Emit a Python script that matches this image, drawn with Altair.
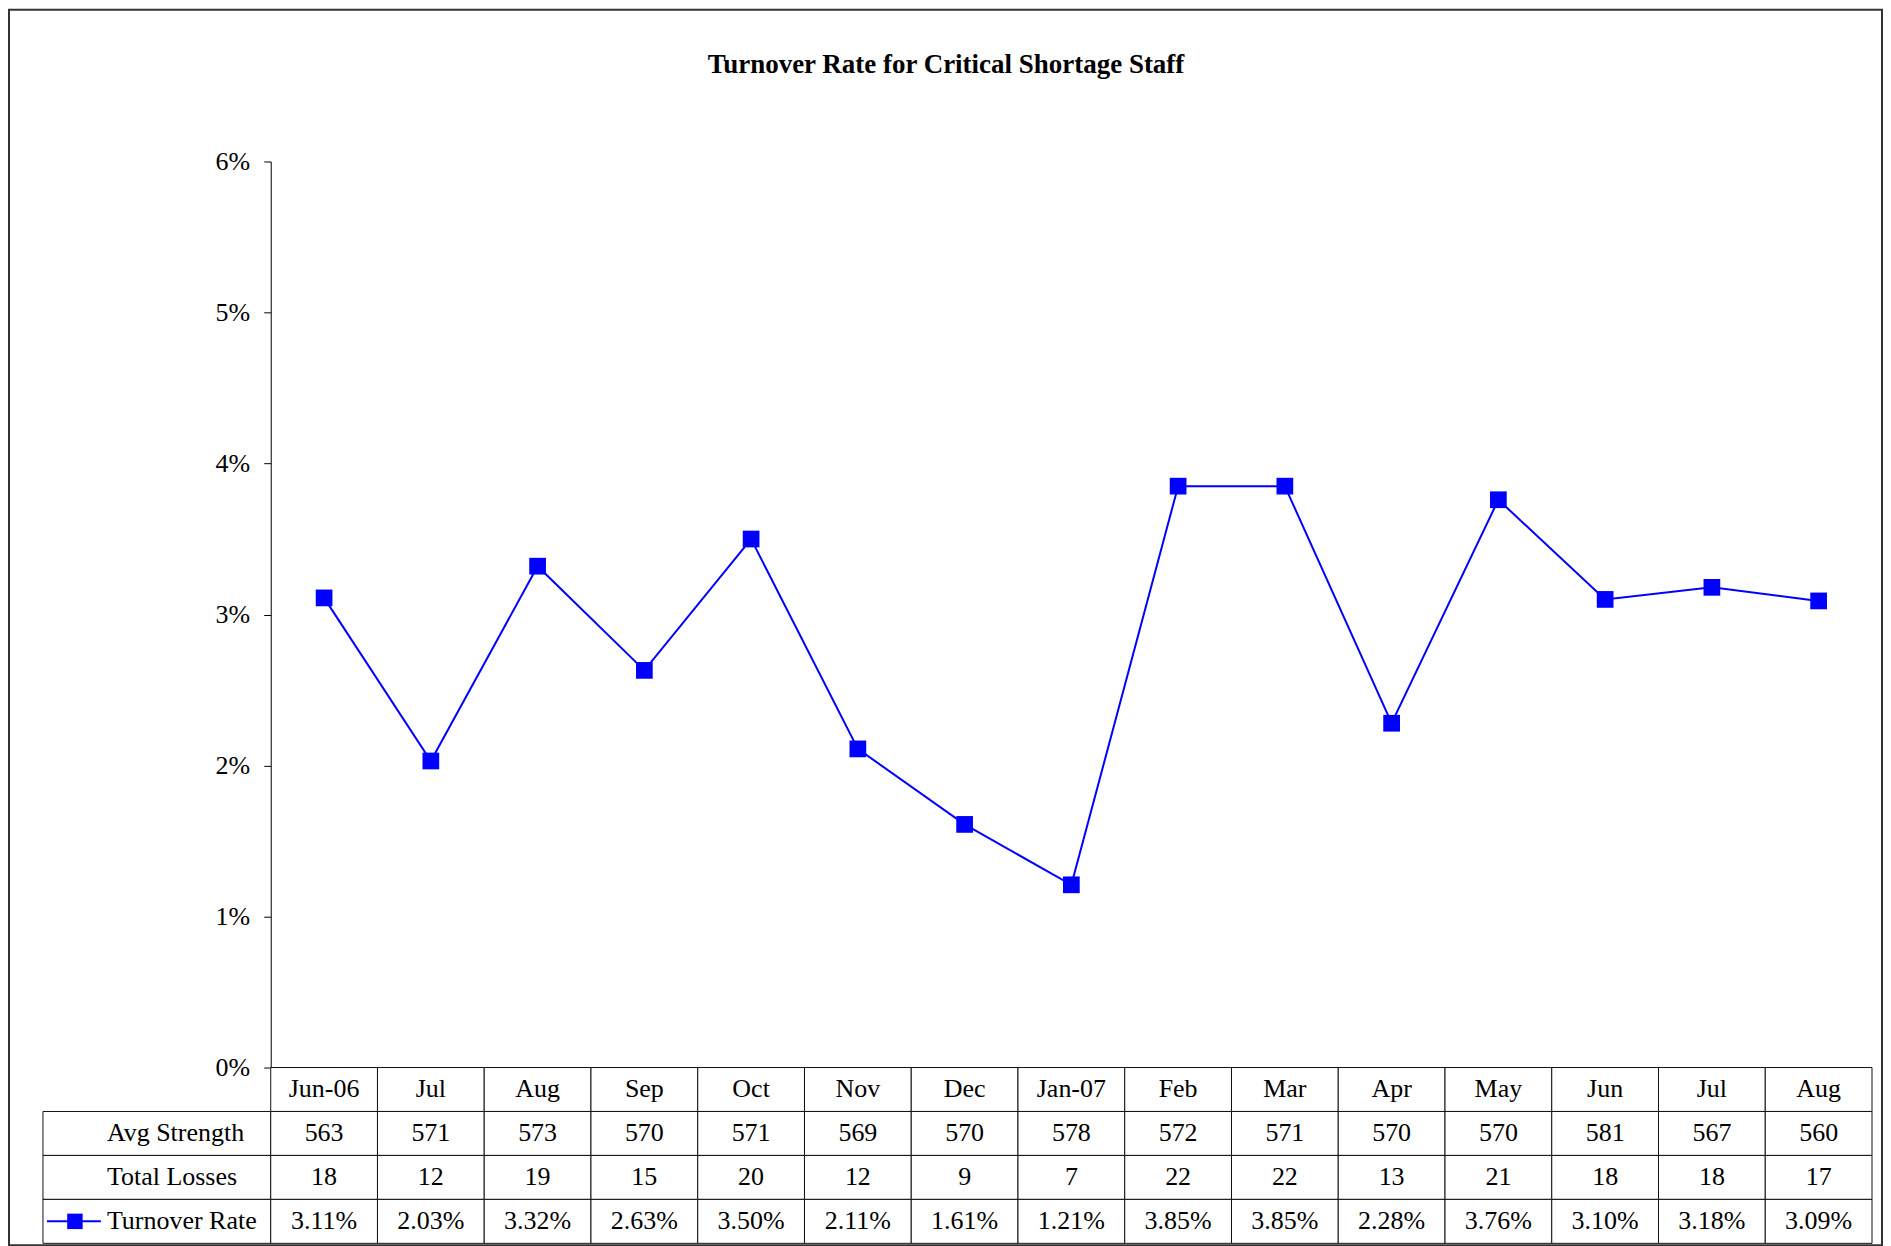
import altair as alt
import pandas as pd

# ---- data ----
months = ["Jun-06", "Jul", "Aug", "Sep", "Oct", "Nov", "Dec", "Jan-07",
          "Feb", "Mar", "Apr", "May", "Jun", "Jul", "Aug"]
avg_strength = [563, 571, 573, 570, 571, 569, 570, 578, 572, 571, 570, 570, 581, 567, 560]
total_losses = [18, 12, 19, 15, 20, 12, 9, 7, 22, 22, 13, 21, 18, 18, 17]
turnover_rate = [3.11, 2.03, 3.32, 2.63, 3.50, 2.11, 1.61, 1.21, 3.85, 3.85, 2.28, 3.76, 3.10, 3.18, 3.09]
y_ticks = [0, 1, 2, 3, 4, 5, 6]
row_names = ["Avg Strength", "Total Losses", "Turnover Rate"]
TITLE = "Turnover Rate for Critical Shortage Staff"

FONT = "Liberation Serif"
BLUE = "#0000FF"
W, H = 1603, 907
TABLE_H = 176

idx = list(range(len(months)))
df_line = pd.DataFrame({"idx": idx, "month": months, "rate": turnover_rate})

x_top = alt.X("idx:O", scale=alt.Scale(type="point", padding=0.5), axis=None)
y_top = alt.Y("rate:Q", scale=alt.Scale(domain=[0, 6]),
              axis=alt.Axis(values=y_ticks, labelExpr="datum.value + '%'",
                            title=None, grid=False, labelFont=FONT, labelFontSize=26,
                            labelColor="black", domainColor="black", tickColor="black",
                            tickSize=7, labelPadding=14, domainWidth=1, tickWidth=1))

base = alt.Chart(df_line)
line = base.mark_line(color=BLUE, strokeWidth=2).encode(x=x_top, y=y_top)
pts = base.mark_point(shape="square", filled=True, size=280, color=BLUE, opacity=1).encode(x=x_top, y=y_top)

one = pd.DataFrame({"t": [TITLE]})
frame = alt.Chart(one).mark_rect(fillOpacity=0, stroke="#333333", strokeWidth=2).encode(
    x=alt.value(-262), x2=alt.value(1613), y=alt.value(-152), y2=alt.value(1085))
title = alt.Chart(one).mark_text(font=FONT, fontSize=27, fontWeight="bold", color="black",
                                 baseline="middle", align="center").encode(
    text="t:N", x=alt.value(676), y=alt.value(-97))

top = alt.layer(frame, title, line, pts).properties(width=W, height=H)

# ---- data table ----
rows_order = ["hdr"] + row_names
recs = []
for i in idx:
    recs.append({"idx": i, "row": "hdr", "txt": months[i]})
    recs.append({"idx": i, "row": "Avg Strength", "txt": str(avg_strength[i])})
    recs.append({"idx": i, "row": "Total Losses", "txt": str(total_losses[i])})
    recs.append({"idx": i, "row": "Turnover Rate", "txt": f"{turnover_rate[i]:.2f}%"})
df_tab = pd.DataFrame(recs)

x_tab = alt.X("idx:O", scale=alt.Scale(paddingInner=0, paddingOuter=0), axis=None)
y_tab = alt.Y("row:N", sort=rows_order, scale=alt.Scale(domain=rows_order, paddingInner=0, paddingOuter=0), axis=None)

cells = alt.Chart(df_tab).mark_rect(fill="white", stroke="#111111", strokeWidth=1).encode(x=x_tab, y=y_tab)
cell_txt = alt.Chart(df_tab).mark_text(font=FONT, fontSize=26, color="black", baseline="middle").encode(
    x=x_tab, y=y_tab, text="txt:N")

df_rows = pd.DataFrame({"row": row_names})
lab_cells = alt.Chart(df_rows).mark_rect(fill="white", stroke="#111111", strokeWidth=1).encode(
    x=alt.value(-228), x2=alt.value(0), y=y_tab)
lab_txt = alt.Chart(df_rows).mark_text(font=FONT, fontSize=26, color="black", baseline="middle", align="left").encode(
    x=alt.value(-164), y=y_tab, text="row:N")

df_leg = pd.DataFrame({"row": ["Turnover Rate"]})
leg_line = alt.Chart(df_leg).mark_rule(color=BLUE, strokeWidth=2).encode(
    x=alt.value(-224), x2=alt.value(-170), y=y_tab)
leg_pt = alt.Chart(df_leg).mark_point(shape="square", filled=True, size=240, color=BLUE, opacity=1).encode(
    x=alt.value(-196), y=y_tab)

table = alt.layer(lab_cells, cells, lab_txt, cell_txt, leg_line, leg_pt).properties(width=W, height=TABLE_H)

chart = alt.vconcat(top, table, spacing=0, bounds="flush").properties(padding=0).configure_view(stroke=None)

chart.save("out.html", embed_options={"renderer": "svg", "actions": False})
